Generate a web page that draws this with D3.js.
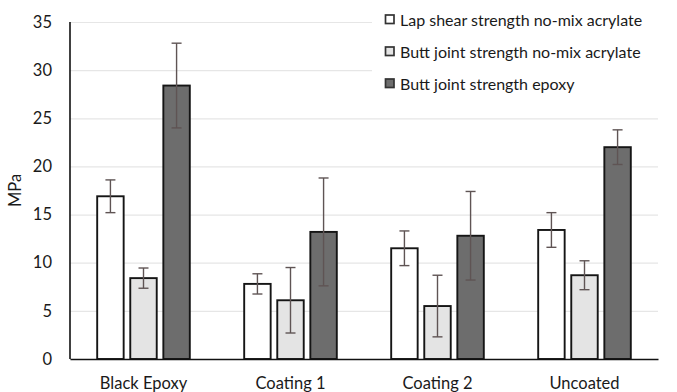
<!DOCTYPE html>
<html>
<head>
<meta charset="utf-8">
<script src="https://cdn.jsdelivr.net/npm/d3@7"></script>
<style>
  body { margin: 0; background: #fff; }
  svg { font-family: Lato, "Open Sans", sans-serif; }
</style>
</head>
<body>
<svg id="chart" width="677" height="392"></svg>
<script>
// data
const categories = ["Black Epoxy", "Coating 1", "Coating 2", "Uncoated"];
const seriesNames = ["Lap shear strength no-mix acrylate", "Butt joint strength no-mix acrylate", "Butt joint strength epoxy"];
const lapShear = [16.9, 7.8, 11.5, 13.4];
const lapShearErr = [1.7, 1.05, 1.8, 1.8];
const buttAcrylate = [8.4, 6.1, 5.5, 8.7];
const buttAcrylateErr = [1.05, 3.4, 3.2, 1.5];
const buttEpoxy = [28.4, 13.2, 12.8, 22.0];
const buttEpoxyErr = [4.4, 5.6, 4.6, 1.8];
const yTicks = [0, 5, 10, 15, 20, 25, 30, 35];

const fills = ["#ffffff", "#e4e4e4", "#6d6d6d"];
const values = [lapShear, buttAcrylate, buttEpoxy];
const errs = [lapShearErr, buttAcrylateErr, buttEpoxyErr];
const fontSize = 16.5;

let margin = {top: 22, right: 19, bottom: 33, left: 70};
let width = 677 - margin.left - margin.right;
let height = 392 - margin.top - margin.bottom;

let svg = d3.select("#chart");
let g = svg.append("g").attr("transform", "translate(" + margin.left + "," + margin.top + ")");

let xScale = d3.scaleBand().domain(categories).range([0, width]).paddingInner(0.37).paddingOuter(0.185);
let xInner = d3.scaleBand().domain(d3.range(3)).range([0, xScale.bandwidth()]).paddingInner(0.2);
let yScale = d3.scaleLinear().domain([0, 35]).range([height, 0]);

// gridlines
g.append("g")
    .attr("class", "grid")
    .call(d3.axisLeft(yScale).tickValues(yTicks).tickSize(-width).tickFormat(""))
    .call(s => s.select(".domain").remove())
    .call(s => s.selectAll("line").attr("stroke", "#e6e6e6").attr("stroke-width", 1.2));

// legend background hides the grid behind it
svg.append("rect")
    .attr("x", 372).attr("y", 0)
    .attr("width", 305).attr("height", 100)
    .attr("fill", "#fff");

// y axis labels
let yAxis = g.append("g")
    .call(d3.axisLeft(yScale).tickValues(yTicks).tickSize(0).tickPadding(18));
yAxis.select(".domain").remove();
yAxis.selectAll("text").attr("font-size", fontSize).attr("fill", "#1a1a1a").attr("font-family", "Lato, sans-serif");

// bars
let flat = [];
categories.forEach((c, i) => {
    values.forEach((v, s) => {
        flat.push({cat: c, series: s, value: v[i], err: errs[s][i]});
    });
});

let groups = g.selectAll(".bar").data(flat).enter().append("g").attr("class", "bar")
    .attr("transform", d => "translate(" + (xScale(d.cat) + xInner(d.series)) + ",0)");

groups.append("rect")
    .attr("x", 0)
    .attr("y", d => yScale(d.value))
    .attr("width", xInner.bandwidth())
    .attr("height", d => height - yScale(d.value))
    .attr("fill", d => fills[d.series])
    .attr("stroke", "#151515")
    .attr("stroke-width", 1.9);

let cap = 5;
let errColor = "#5f5454";
groups.append("line")
    .attr("x1", xInner.bandwidth() / 2).attr("x2", xInner.bandwidth() / 2)
    .attr("y1", d => yScale(d.value + d.err))
    .attr("y2", d => yScale(d.value - d.err))
    .attr("stroke", errColor).attr("stroke-width", 1.4);
groups.append("line")
    .attr("x1", xInner.bandwidth() / 2 - cap).attr("x2", xInner.bandwidth() / 2 + cap)
    .attr("y1", d => yScale(d.value + d.err)).attr("y2", d => yScale(d.value + d.err))
    .attr("stroke", errColor).attr("stroke-width", 1.4);
groups.append("line")
    .attr("x1", xInner.bandwidth() / 2 - cap).attr("x2", xInner.bandwidth() / 2 + cap)
    .attr("y1", d => yScale(d.value - d.err)).attr("y2", d => yScale(d.value - d.err))
    .attr("stroke", errColor).attr("stroke-width", 1.4);

// axis lines
g.append("line")
    .attr("x1", 0).attr("x2", 0).attr("y1", 0).attr("y2", height)
    .attr("stroke", "#111").attr("stroke-width", 1.6);
let xAxis = g.append("g")
    .attr("transform", "translate(0," + height + ")")
    .call(d3.axisBottom(xScale).tickSize(0).tickPadding(18));
xAxis.select(".domain").attr("stroke", "#111").attr("stroke-width", 1.6);
xAxis.selectAll("text").attr("font-size", fontSize).attr("fill", "#1a1a1a").attr("font-family", "Lato, sans-serif");

// y title
svg.append("text")
    .attr("transform", "translate(21," + (margin.top + height / 2) + ") rotate(-90)")
    .attr("text-anchor", "middle")
    .attr("font-size", fontSize)
    .attr("fill", "#1a1a1a")
    .text("MPa");

// legend
let legend = svg.append("g").attr("transform", "translate(385,0)");
seriesNames.forEach((name, i) => {
    let row = legend.append("g").attr("transform", "translate(0," + (20 + i * 32) + ")");
    row.append("rect")
        .attr("x", 0.5).attr("y", -5)
        .attr("width", 8.5).attr("height", 8.5)
        .attr("fill", fills[i])
        .attr("stroke", "#333").attr("stroke-width", 1.7);
    row.append("text")
        .attr("x", 15).attr("y", 0)
        .attr("dy", "0.35em")
        .attr("font-size", 16)
        .attr("fill", "#1a1a1a")
        .text(name);
});
</script>
</body>
</html>
